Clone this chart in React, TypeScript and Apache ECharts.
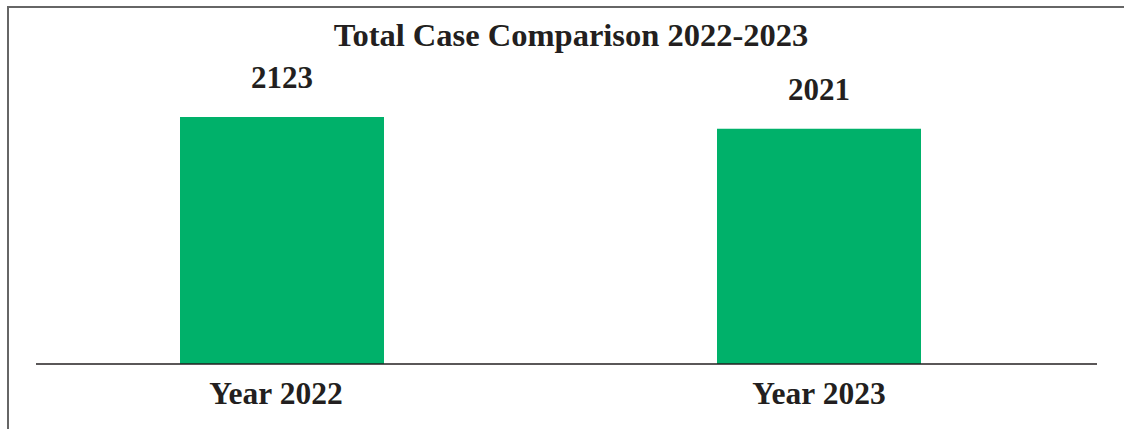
import React, { useEffect, useRef } from "react";
import * as echarts from "echarts";

const categories = ["Year 2022", "Year 2023"];
const totalCases = [2123, 2021];
const titleText = "Total Case Comparison 2022-2023";

export default function App() {
  const ref = useRef<HTMLDivElement>(null);
  useEffect(() => {
    if (!ref.current) return;
    const chart = echarts.init(ref.current, null, { renderer: "svg" });
    const font = "'Liberation Serif', 'Times New Roman', serif";
    const textColor = "#231f20";
    chart.setOption({
      animation: false,
      title: {
        text: titleText,
        left: 566,
        textAlign: "center",
        top: 13,
        textStyle: { fontFamily: font, fontSize: 32.5, fontWeight: "bold", color: textColor },
      },
      grid: { left: 13.5, right: 36.5, top: 108, bottom: 65, containLabel: false },
      xAxis: {
        type: "category",
        data: categories.map((c, i) =>
          i === 0 ? { value: c, textStyle: { padding: [0, 12, 0, 0] } } : c
        ),
        axisLine: { show: false },
        axisTick: { show: false },
        axisLabel: {
          margin: 13,
          fontFamily: font,
          fontSize: 31.5,
          fontWeight: "bold",
          color: textColor,
        },
      },
      yAxis: {
        type: "value",
        min: 0,
        max: 2200,
        show: false,
        splitLine: { show: false },
      },
      series: [
        {
          type: "bar",
          data: totalCases,
          barWidth: 204,
          itemStyle: { color: "#00b16a" },
          label: {
            show: true,
            position: "top",
            distance: 24,
            fontFamily: font,
            fontSize: 31,
            fontWeight: "bold",
            color: textColor,
          },
        },
      ],
      graphic: [
        {
          type: "line",
          shape: { x1: 36, y1: 364, x2: 1097, y2: 364 },
          style: { stroke: "#231f20", lineWidth: 1.6 },
          z: 10,
        },
        {
          type: "line",
          shape: { x1: 8, y1: 6, x2: 8, y2: 429 },
          style: { stroke: "#666666", lineWidth: 2 },
        },
        {
          type: "line",
          shape: { x1: 7, y1: 7, x2: 1124, y2: 7 },
          style: { stroke: "#666666", lineWidth: 2 },
        },
      ],
    });
    return () => chart.dispose();
  }, []);
  return (
    <div
      ref={ref}
      style={{ position: "fixed", left: 0, top: 0, width: 1124, height: 429, background: "#fff" }}
    />
  );
}
